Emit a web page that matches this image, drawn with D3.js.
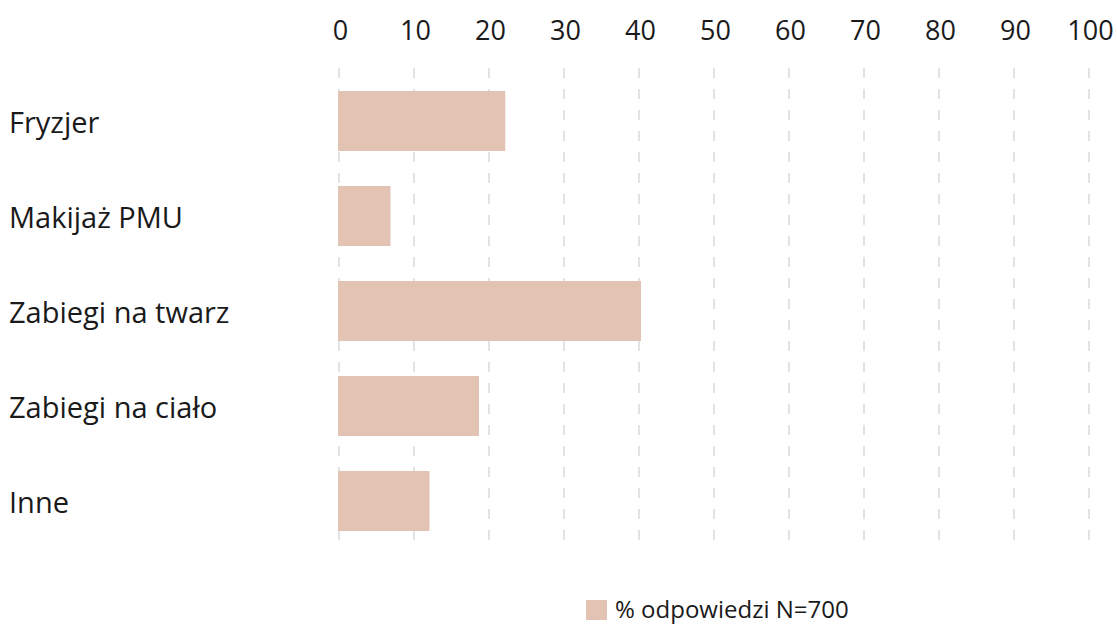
<!DOCTYPE html>
<html>
<head>
<meta charset="utf-8">
<script src="https://cdn.jsdelivr.net/npm/d3@7"></script>
<style>
  html, body { margin: 0; padding: 0; background: #fff; }
  svg { display: block; font-family: "Open Sans", "Noto Sans", sans-serif; }
</style>
</head>
<body>
<svg id="chart" width="1117" height="624"></svg>
<script>
// Share of responses per service category
const categories = ["Fryzjer", "Makijaż PMU", "Zabiegi na twarz", "Zabiegi na ciało", "Inne"];
const values = [22.3, 7.0, 40.4, 18.8, 12.2];
const tickValues = [0, 10, 20, 30, 40, 50, 60, 70, 80, 90, 100];
const legendLabel = "% odpowiedzi N=700";

const svg = d3.select("#chart");
const barColor = "#e3c3b4";
const textColor = "#1a1a1a";

const x = d3.scaleLinear().domain([0, 100]).range([338, 1088]);
const y = d3.scaleBand().domain(categories).range([73.5, 548.5]).paddingInner(0.368).paddingOuter(0.184);

// Dashed vertical gridlines
svg.append("g")
  .selectAll("line")
  .data(tickValues)
  .join("line")
  .attr("x1", d => x(d) + 1)
  .attr("x2", d => x(d) + 1)
  .attr("y1", 68)
  .attr("y2", 549)
  .attr("stroke", "#e3e3e3")
  .attr("stroke-width", 2)
  .attr("stroke-dasharray", "10,11");

// Top axis labels
const axis = d3.axisTop(x).tickValues(tickValues).tickSize(0).tickPadding(0);
const axisG = svg.append("g").attr("transform", "translate(2,40)").call(axis);
axisG.select(".domain").remove();
axisG.selectAll("text")
  .attr("font-size", 27)
  .attr("fill", textColor)
  .attr("font-family", "'Open Sans', 'Noto Sans', sans-serif");

// Bars
svg.append("g")
  .selectAll("rect")
  .data(values)
  .join("rect")
  .attr("x", x(0))
  .attr("y", (d, i) => y(categories[i]))
  .attr("width", d => x(d) - x(0))
  .attr("height", y.bandwidth())
  .attr("fill", barColor);

// Category labels
svg.append("g")
  .selectAll("text")
  .data(categories)
  .join("text")
  .attr("x", 9)
  .attr("y", d => y(d) + y.bandwidth() / 2 + 2)
  .attr("dy", "0.35em")
  .attr("font-size", 29)
  .attr("fill", textColor)
  .text(d => d);

// Legend
const legend = svg.append("g").attr("transform", "translate(586,600)");
legend.append("rect").attr("width", 21).attr("height", 20).attr("fill", barColor);
legend.append("text")
  .attr("x", 29)
  .attr("y", 10)
  .attr("dy", "0.35em")
  .attr("font-size", 24)
  .attr("fill", textColor)
  .text(legendLabel);
</script>
</body>
</html>
